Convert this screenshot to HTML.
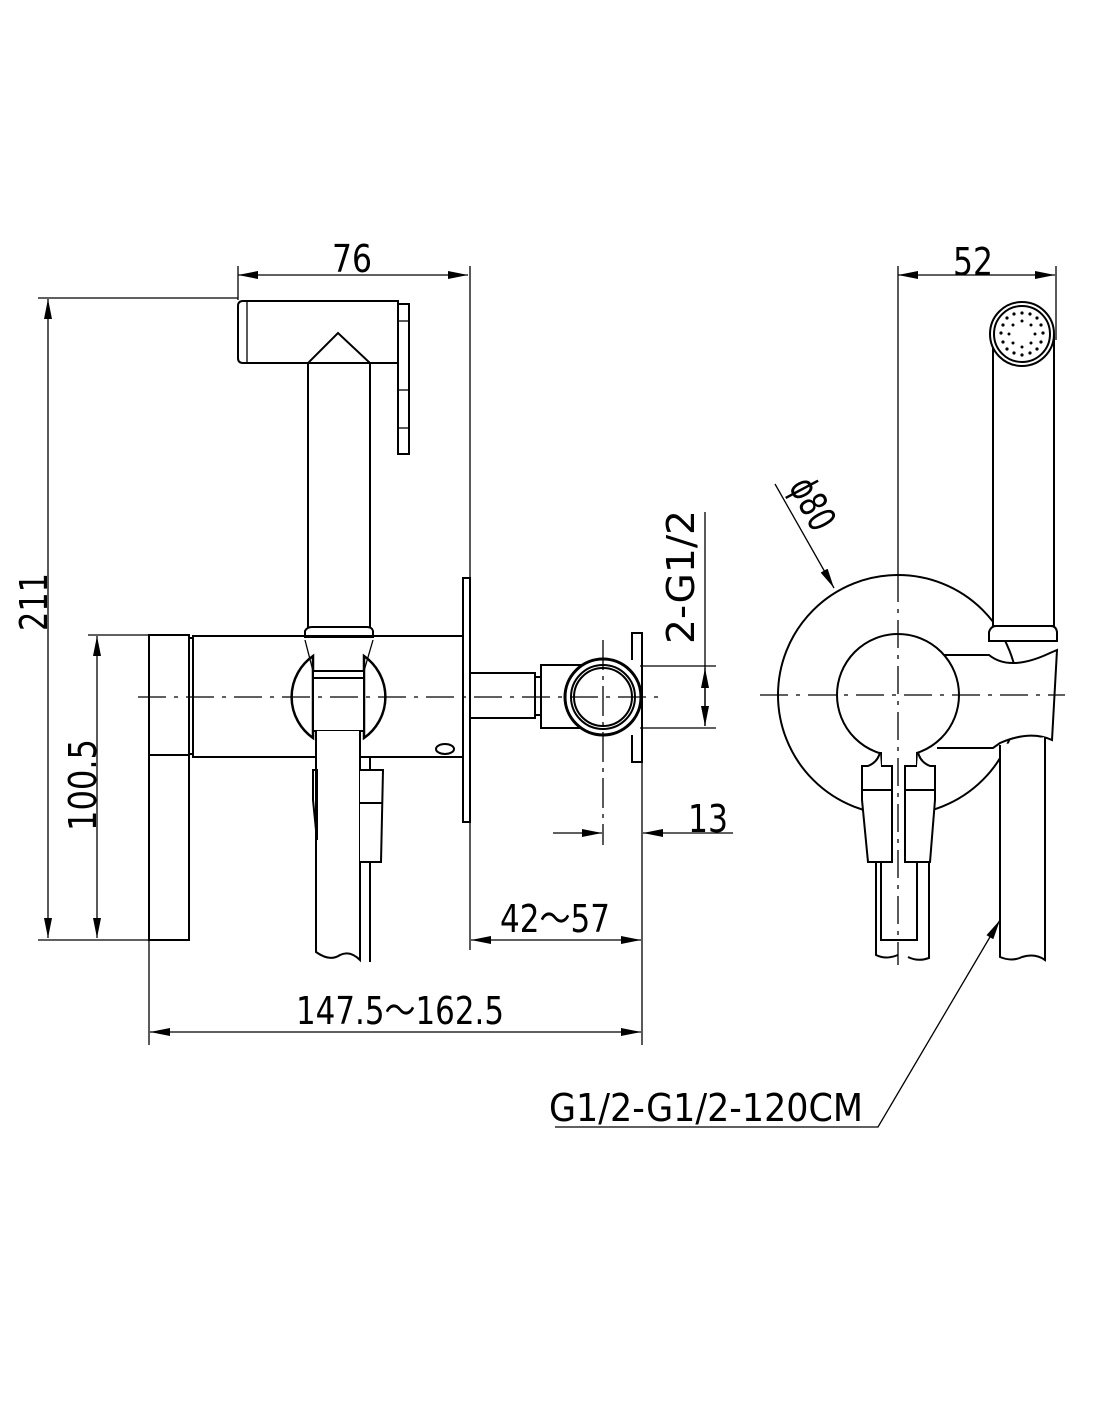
<!DOCTYPE html>
<html><head><meta charset="utf-8"><style>
html,body{margin:0;padding:0;background:#fff}
svg{display:block}
text{font-family:"DejaVu Sans","Liberation Sans",sans-serif;fill:#000}
</style></head><body>
<svg width="1100" height="1422" viewBox="0 0 1100 1422" xmlns="http://www.w3.org/2000/svg">
<defs>
<marker id="a" viewBox="0 0 20 8" refX="20" refY="4" markerWidth="20" markerHeight="8" orient="auto-start-reverse" markerUnits="userSpaceOnUse"><path d="M0,0 L20,4 L0,8 Z" fill="#000"/></marker>
</defs>
<g fill="none" stroke="#000" stroke-width="2">
<line x1="238" y1="275" x2="468" y2="275" stroke-width="1.3" marker-start="url(#a)" marker-end="url(#a)"/>
<line x1="238" y1="266" x2="238" y2="300" stroke-width="1.3"/>
<line x1="470" y1="266" x2="470" y2="950" stroke-width="1.3"/>
<line x1="48" y1="299" x2="48" y2="938" stroke-width="1.3" marker-start="url(#a)" marker-end="url(#a)"/>
<line x1="38" y1="298" x2="238" y2="298" stroke-width="1.3"/>
<line x1="38" y1="940" x2="149" y2="940" stroke-width="1.3"/>
<line x1="97" y1="636" x2="97" y2="938" stroke-width="1.3" marker-start="url(#a)" marker-end="url(#a)"/>
<line x1="88" y1="635" x2="149" y2="635" stroke-width="1.3"/>

<path d="M243,301 L398,301 L398,363 L243,363 Q238,363 238,358 L238,306 Q238,301 243,301 Z"/>
<line x1="247" y1="301" x2="247" y2="363" stroke-width="1.3"/>
<rect x="398" y="304" width="11" height="150"/>
<line x1="398" y1="321" x2="409" y2="321" stroke-width="1.3"/>
<line x1="398" y1="390" x2="409" y2="390" stroke-width="1.3"/>
<line x1="398" y1="428" x2="409" y2="428" stroke-width="1.3"/>
<path d="M308,628 L308,363 L338,333 L370,363 L370,628"/>
<path d="M305,637 L305,631 Q307,627 312,627 L367,627 Q372,627 373,631 L373,637 Z"/>
<rect x="149" y="635" width="40" height="305"/>
<line x1="149" y1="755" x2="189" y2="755"/>
<rect x="189" y="638" width="4" height="116"/>
<rect x="193" y="636" width="270" height="121"/>
<rect x="463" y="578" width="7" height="244"/>
<ellipse cx="445" cy="749" rx="9" ry="5"/>
<path d="M313,656 A50,50 0 0 0 313,738 Z" fill="#fff" stroke-width="2.5"/>
<path d="M364,656 A50,50 0 0 1 364,738 Z" fill="#fff" stroke-width="2.5"/>
<rect x="313" y="671" width="51" height="60" fill="#fff"/>
<line x1="313" y1="678" x2="364" y2="678"/>
<line x1="305" y1="640" x2="313" y2="671" stroke-width="1.3"/>
<line x1="373" y1="640" x2="364" y2="671" stroke-width="1.3"/>
<path d="M316,731 L316,952 Q330,962 340,955 Q350,950 360,960 L360,731" fill="#fff"/>
<line x1="370" y1="757" x2="370" y2="962"/>
<path d="M360,770 L383,770 L381,862 L360,862" fill="#fff"/>
<line x1="360" y1="803" x2="382" y2="803"/>
<path d="M313,770 L317,770 L317,840 L313,800 Z"/>
<rect x="470" y="673" width="65" height="45"/>
<rect x="535" y="677" width="6" height="38"/>
<rect x="541" y="665" width="62" height="63"/>
<circle cx="603" cy="697" r="38" fill="#fff" stroke-width="3"/>
<circle cx="603" cy="697" r="32"/>
<circle cx="603" cy="697" r="29"/>
<path d="M632,660 L632,633 L642,633 L642,762 L632,762 L632,735"/>
<line x1="138" y1="697" x2="660" y2="697" stroke-width="1.3" stroke-dasharray="28,8,4,8"/>
<line x1="603" y1="640" x2="603" y2="845" stroke-width="1.3" stroke-dasharray="30,6,4,6"/>
<line x1="705" y1="512" x2="705" y2="726" stroke-width="1.3"/>
<line x1="705" y1="668" x2="705" y2="726" stroke-width="1.3" marker-start="url(#a)" marker-end="url(#a)"/>
<line x1="640" y1="666" x2="716" y2="666" stroke-width="1.3"/>
<line x1="640" y1="728" x2="716" y2="728" stroke-width="1.3"/>
<line x1="642" y1="757" x2="642" y2="1045" stroke-width="1.3"/>
<line x1="553" y1="833" x2="602" y2="833" stroke-width="1.3" marker-end="url(#a)"/>
<line x1="733" y1="833" x2="643" y2="833" stroke-width="1.3" marker-end="url(#a)"/>
<line x1="471" y1="940" x2="641" y2="940" stroke-width="1.3" marker-start="url(#a)" marker-end="url(#a)"/>
<line x1="149" y1="940" x2="149" y2="1045" stroke-width="1.3"/>
<line x1="150" y1="1032" x2="641" y2="1032" stroke-width="1.3" marker-start="url(#a)" marker-end="url(#a)"/>

<line x1="898" y1="275" x2="1055" y2="275" stroke-width="1.3" marker-start="url(#a)" marker-end="url(#a)"/>
<line x1="898" y1="266" x2="898" y2="574" stroke-width="1.3"/>
<line x1="1056" y1="266" x2="1056" y2="340" stroke-width="1.3"/>
<circle cx="898" cy="695" r="120"/>
<path d="M993,335 L993,626 L1054,626 L1054,335" fill="#fff"/>
<circle cx="1022" cy="334" r="32" fill="#fff"/>
<circle cx="1022" cy="334" r="28"/>
<g fill="#000" stroke="none">
<circle cx="1022" cy="313" r="1.6"/><circle cx="1030" cy="314" r="1.6"/><circle cx="1037" cy="318" r="1.6"/><circle cx="1041" cy="325" r="1.6"/><circle cx="1043" cy="333" r="1.6"/><circle cx="1041" cy="342" r="1.6"/><circle cx="1037" cy="349" r="1.6"/><circle cx="1030" cy="353" r="1.6"/><circle cx="1022" cy="355" r="1.6"/><circle cx="1014" cy="353" r="1.6"/><circle cx="1007" cy="349" r="1.6"/><circle cx="1003" cy="342" r="1.6"/><circle cx="1001" cy="333" r="1.6"/><circle cx="1003" cy="325" r="1.6"/><circle cx="1007" cy="318" r="1.6"/><circle cx="1014" cy="314" r="1.6"/>
<circle cx="1022" cy="321" r="1.5"/><circle cx="1031" cy="325" r="1.5"/><circle cx="1035" cy="334" r="1.5"/><circle cx="1031" cy="343" r="1.5"/><circle cx="1022" cy="347" r="1.5"/><circle cx="1013" cy="343" r="1.5"/><circle cx="1009" cy="334" r="1.5"/><circle cx="1013" cy="325" r="1.5"/>
</g>
<path d="M989,641 L989,632 Q991,626 996,626 L1051,626 Q1056,626 1057,632 L1057,641 Z" fill="#fff"/>
<path d="M937,655 L989,655 Q1010,672 1050,653 L1057,650 L1052,740 Q1030,730 1000,743 L993,748 L937,748" fill="#fff"/>
<path d="M1000,745 L1000,957 Q1012,962 1022,957 Q1035,953 1045,960 L1045,737" fill="#fff"/>
<circle cx="898" cy="695" r="61" fill="#fff"/>
<path d="M881,752 L881,940 L917,940 L917,752" fill="#fff"/>
<path d="M880,752 Q878,762 868,766 L862,766 L862,800 L868,862 L892,862 L892,766 L881,766" fill="#fff"/>
<path d="M918,752 Q920,762 930,766 L935,766 L935,800 L930,862 L905,862 L905,766 L917,766" fill="#fff"/>
<line x1="862" y1="790" x2="892" y2="790"/>
<line x1="905" y1="790" x2="935" y2="790"/>
<path d="M876,862 L876,955 Q886,960 898,955"/>
<path d="M929,862 L929,958 Q918,962 908,957"/>
<line x1="881" y1="862" x2="881" y2="940"/>
<line x1="917" y1="862" x2="917" y2="940"/>
<line x1="898" y1="574" x2="898" y2="965" stroke-width="1.3" stroke-dasharray="28,7,4,7"/>
<line x1="760" y1="695" x2="1065" y2="695" stroke-width="1.3" stroke-dasharray="28,8,4,8"/>
<line x1="775" y1="484" x2="834" y2="588" stroke-width="1.3" marker-end="url(#a)"/>
<polyline points="555,1127 878,1127 1000,920" stroke-width="1.3" marker-end="url(#a)"/>
</g>
<g font-size="38">
<text x="352" y="272" text-anchor="middle" textLength="40" lengthAdjust="spacingAndGlyphs">76</text>
<text x="973" y="275" text-anchor="middle" textLength="40" lengthAdjust="spacingAndGlyphs">52</text>
<text transform="translate(47,602) rotate(-90)" text-anchor="middle" textLength="58" lengthAdjust="spacingAndGlyphs">211</text>
<text transform="translate(96,785) rotate(-90)" text-anchor="middle" textLength="92" lengthAdjust="spacingAndGlyphs">100.5</text>
<text transform="translate(694,577) rotate(-90)" text-anchor="middle" textLength="134" lengthAdjust="spacingAndGlyphs">2-G1/2</text>
<text x="708" y="832" text-anchor="middle" textLength="40" lengthAdjust="spacingAndGlyphs">13</text>
<text x="555" y="932" text-anchor="middle" textLength="110" lengthAdjust="spacingAndGlyphs">42～57</text>
<text x="400" y="1024" text-anchor="middle" textLength="208" lengthAdjust="spacingAndGlyphs">147.5～162.5</text>
<text x="706" y="1121" text-anchor="middle" textLength="314" lengthAdjust="spacingAndGlyphs">G1/2-G1/2-120CM</text>
<text transform="translate(801,510) rotate(62)" text-anchor="middle" textLength="54" lengthAdjust="spacingAndGlyphs">ϕ80</text>
</g>
</svg>
</body></html>
